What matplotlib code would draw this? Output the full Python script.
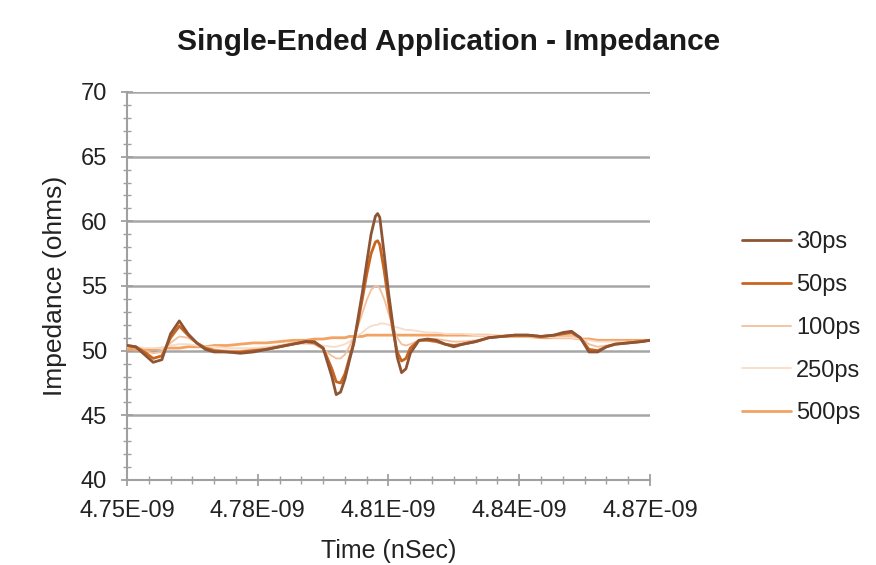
import matplotlib
matplotlib.use("Agg")
import matplotlib.pyplot as plt
from matplotlib.ticker import MultipleLocator, FuncFormatter, FixedLocator

plt.rcParams['font.family'] = ['Liberation Sans', 'DejaVu Sans']

# time in ns
time_ns = [4.750, 4.752, 4.754, 4.756, 4.758, 4.760, 4.762, 4.764, 4.766, 4.768,
           4.770, 4.773, 4.776, 4.779, 4.782, 4.785, 4.788, 4.791, 4.793, 4.795,
           4.797, 4.798, 4.799, 4.800, 4.801, 4.802, 4.803, 4.804, 4.805, 4.806,
           4.807, 4.8075, 4.808, 4.809, 4.810, 4.811, 4.812, 4.813, 4.814, 4.815,
           4.817, 4.819, 4.821, 4.823, 4.825, 4.827, 4.830, 4.833, 4.836, 4.839,
           4.842, 4.845, 4.848, 4.850, 4.852, 4.854, 4.856, 4.858, 4.860, 4.862,
           4.865, 4.868, 4.870]

z_30ps = [50.4, 50.3, 49.7, 49.1, 49.3, 51.3, 52.3, 51.3, 50.6, 50.1,
          49.9, 49.9, 49.8, 49.9, 50.1, 50.3, 50.5, 50.7, 50.7, 50.2,
          48.0, 46.6, 46.8, 47.8, 49.2, 50.5, 52.5, 54.5, 56.8, 59.0,
          60.4, 60.6, 60.3, 57.5, 54.5, 52.0, 49.5, 48.3, 48.6, 49.8,
          50.8, 50.9, 50.8, 50.5, 50.3, 50.5, 50.7, 51.0, 51.1, 51.2,
          51.2, 51.1, 51.2, 51.4, 51.5, 51.0, 49.9, 49.9, 50.3, 50.5,
          50.6, 50.7, 50.8]

z_50ps = [50.4, 50.3, 49.9, 49.4, 49.6, 51.0, 51.9, 51.2, 50.6, 50.2,
          50.0, 49.9, 49.9, 50.0, 50.1, 50.3, 50.5, 50.7, 50.6, 50.2,
          48.6, 47.6, 47.5, 48.2, 49.4, 50.6, 52.2, 54.0, 55.9, 57.5,
          58.4, 58.5, 58.2, 56.2, 53.8, 51.6, 49.9, 49.2, 49.4, 50.2,
          50.8, 50.8, 50.7, 50.5, 50.4, 50.5, 50.7, 51.0, 51.1, 51.2,
          51.2, 51.1, 51.2, 51.3, 51.4, 51.0, 50.1, 50.0, 50.3, 50.5,
          50.6, 50.7, 50.8]

z_100ps = [50.3, 50.3, 50.0, 49.8, 49.9, 50.6, 51.1, 51.0, 50.6, 50.3,
           50.1, 50.0, 50.0, 50.1, 50.2, 50.4, 50.6, 50.6, 50.5, 50.1,
           49.6, 49.4, 49.4, 49.7, 50.3, 51.0, 51.9, 52.9, 53.9, 54.7,
           55.0, 55.0, 54.8, 54.0, 52.9, 51.9, 51.0, 50.5, 50.4, 50.5,
           50.8, 50.9, 50.9, 50.8, 50.7, 50.7, 50.8, 51.0, 51.1, 51.1,
           51.1, 51.1, 51.1, 51.2, 51.2, 51.0, 50.5, 50.3, 50.4, 50.5,
           50.6, 50.7, 50.8]

z_250ps = [50.3, 50.3, 50.2, 50.2, 50.2, 50.4, 50.5, 50.5, 50.4, 50.3,
           50.3, 50.2, 50.2, 50.2, 50.3, 50.4, 50.5, 50.5, 50.5, 50.4,
           50.3, 50.3, 50.4, 50.5, 50.7, 50.9, 51.2, 51.4, 51.7, 51.9,
           52.0, 52.0, 52.1, 52.1, 52.0, 51.9, 51.8, 51.7, 51.6, 51.6,
           51.5, 51.4, 51.4, 51.3, 51.3, 51.3, 51.2, 51.2, 51.2, 51.2,
           51.1, 51.1, 51.0, 51.0, 51.0, 50.9, 50.8, 50.7, 50.7, 50.7,
           50.7, 50.7, 50.8]

z_500ps = [50.1, 50.1, 50.1, 50.1, 50.2, 50.2, 50.2, 50.3, 50.3, 50.3,
           50.4, 50.4, 50.5, 50.6, 50.6, 50.7, 50.8, 50.8, 50.9, 50.9,
           51.0, 51.0, 51.0, 51.0, 51.1, 51.1, 51.1, 51.1, 51.2, 51.2,
           51.2, 51.2, 51.2, 51.2, 51.2, 51.2, 51.2, 51.2, 51.2, 51.2,
           51.2, 51.2, 51.2, 51.2, 51.2, 51.2, 51.2, 51.2, 51.1, 51.1,
           51.1, 51.0, 51.0, 51.0, 51.0, 50.9, 50.9, 50.8, 50.8, 50.8,
           50.8, 50.8, 50.8]

series_labels = ["30ps", "50ps", "100ps", "250ps", "500ps"]
series_values = [z_30ps, z_50ps, z_100ps, z_250ps, z_500ps]
series_colors = ["#8E5433", "#C9651F", "#F4C09C", "#F9DCC8", "#F2A262"]
series_widths = [2.0, 2.0, 1.3, 1.3, 2.0]

x_ticks_ns = [4.75, 4.78, 4.81, 4.84, 4.87]
y_ticks = [40, 45, 50, 55, 60, 65, 70]

fig = plt.figure(figsize=(8.76, 5.65), dpi=100)
ax = fig.add_axes([127/876, 1-480/565, (650-127)/876, (480-92)/565])

t = [v * 1e-9 for v in time_ns]
order = [4, 3, 2, 1, 0]
handles = {}
for i in order:
    h, = ax.plot(t, series_values[i], color=series_colors[i], lw=series_widths[i],
                 solid_joinstyle='round', solid_capstyle='round', zorder=3 + (4 - i))
    handles[i] = h

ax.set_xlim(4.75e-9, 4.87e-9)
ax.set_ylim(40, 70)
ax.xaxis.set_major_locator(FixedLocator([v * 1e-9 for v in x_ticks_ns]))
ax.xaxis.set_minor_locator(MultipleLocator(0.005e-9))
ax.xaxis.set_major_formatter(FuncFormatter(lambda v, p: f"{v:.2E}"))
ax.yaxis.set_major_locator(FixedLocator(y_ticks))
ax.yaxis.set_minor_locator(MultipleLocator(1))

for yv in y_ticks[1:]:
    ax.axhline(yv, color="#A6A6A6", lw=1.8, zorder=1)

for s in ['top', 'right']:
    ax.spines[s].set_visible(False)
for s in ['left', 'bottom']:
    ax.spines[s].set_color("#A0A0A0")
    ax.spines[s].set_linewidth(1.5)

ax.tick_params(axis='both', which='major', direction='inout', length=9, width=1.3,
               color="#A0A0A0", labelsize=17, labelcolor="#222222")
ax.tick_params(axis='both', which='minor', direction='inout', length=6, width=1.0,
               color="#A0A0A0")
ax.tick_params(axis='x', which='major', pad=10)
ax.tick_params(axis='y', which='major', pad=10)

ax.set_xlabel("Time (nSec)", fontsize=18, color="#222222", labelpad=12)
ax.set_ylabel("Impedance (ohms)", fontsize=19, color="#222222", labelpad=10)
fig.text(449/876, 1-42/565, "Single-Ended Application - Impedance",
         ha='center', va='center', fontsize=21.5, fontweight='bold', color="#1A1A1A")

leg = ax.legend([handles[i] for i in range(5)], series_labels, loc='center left',
                bbox_to_anchor=(1.135, 0.392), frameon=False, fontsize=17,
                handlelength=2.1, handletextpad=0.2, labelspacing=0.88)
for txt in leg.get_texts():
    txt.set_color("#222222")

fig.savefig("out.png", dpi=100, facecolor='white')
